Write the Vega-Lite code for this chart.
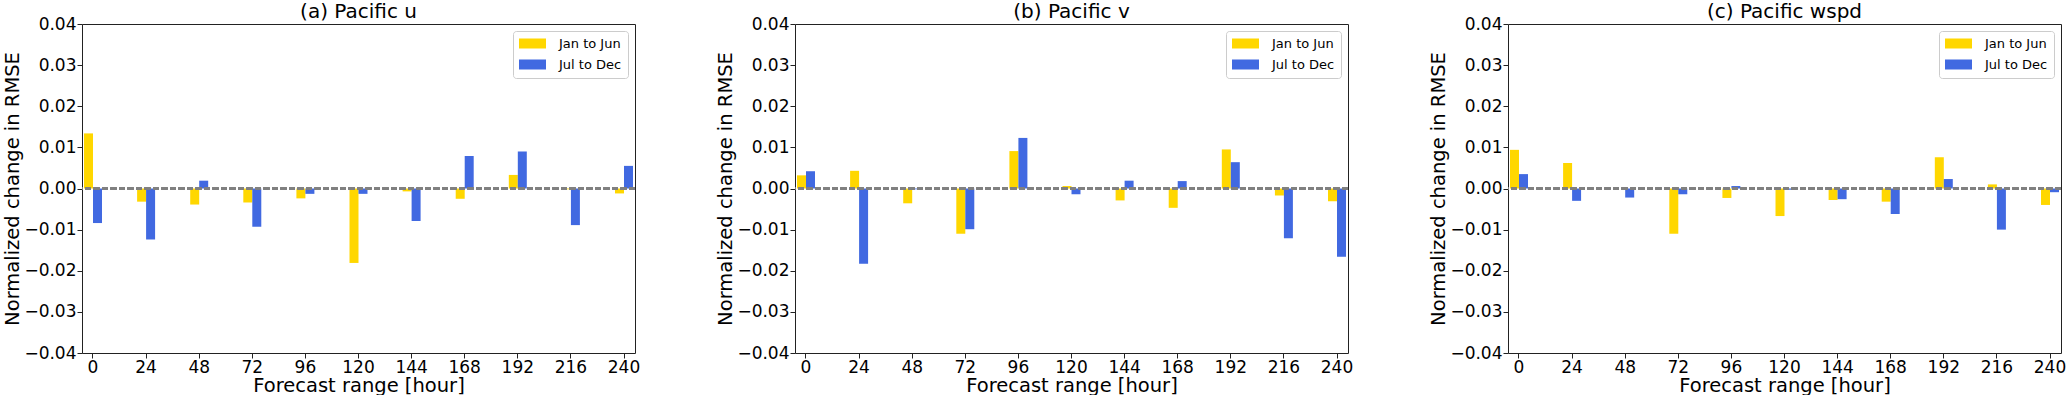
{
  "$schema": "https://vega.github.io/schema/vega-lite/v6.json",
  "padding": {"left": 2, "top": 1, "right": 0, "bottom": 0},
  "bounds": "flush",
  "spacing": 160,
  "data": {
    "values": [
      {"panel": "u", "hour": 0, "period": "Jan to Jun", "value": 0.0134},
      {"panel": "u", "hour": 0, "period": "Jul to Dec", "value": -0.0084},
      {"panel": "u", "hour": 24, "period": "Jan to Jun", "value": -0.0032},
      {"panel": "u", "hour": 24, "period": "Jul to Dec", "value": -0.0124},
      {"panel": "u", "hour": 48, "period": "Jan to Jun", "value": -0.0039},
      {"panel": "u", "hour": 48, "period": "Jul to Dec", "value": 0.0019},
      {"panel": "u", "hour": 72, "period": "Jan to Jun", "value": -0.0034},
      {"panel": "u", "hour": 72, "period": "Jul to Dec", "value": -0.0093},
      {"panel": "u", "hour": 96, "period": "Jan to Jun", "value": -0.0024},
      {"panel": "u", "hour": 96, "period": "Jul to Dec", "value": -0.0013},
      {"panel": "u", "hour": 120, "period": "Jan to Jun", "value": -0.0181},
      {"panel": "u", "hour": 120, "period": "Jul to Dec", "value": -0.0013},
      {"panel": "u", "hour": 144, "period": "Jan to Jun", "value": -0.0007},
      {"panel": "u", "hour": 144, "period": "Jul to Dec", "value": -0.0079},
      {"panel": "u", "hour": 168, "period": "Jan to Jun", "value": -0.0025},
      {"panel": "u", "hour": 168, "period": "Jul to Dec", "value": 0.0079},
      {"panel": "u", "hour": 192, "period": "Jan to Jun", "value": 0.0033},
      {"panel": "u", "hour": 192, "period": "Jul to Dec", "value": 0.009},
      {"panel": "u", "hour": 216, "period": "Jan to Jun", "value": -0.0002},
      {"panel": "u", "hour": 216, "period": "Jul to Dec", "value": -0.0089},
      {"panel": "u", "hour": 240, "period": "Jan to Jun", "value": -0.0012},
      {"panel": "u", "hour": 240, "period": "Jul to Dec", "value": 0.0055},
      {"panel": "v", "hour": 0, "period": "Jan to Jun", "value": 0.0032},
      {"panel": "v", "hour": 0, "period": "Jul to Dec", "value": 0.0042},
      {"panel": "v", "hour": 24, "period": "Jan to Jun", "value": 0.0043},
      {"panel": "v", "hour": 24, "period": "Jul to Dec", "value": -0.0183},
      {"panel": "v", "hour": 48, "period": "Jan to Jun", "value": -0.0036},
      {"panel": "v", "hour": 48, "period": "Jul to Dec", "value": -0.0002},
      {"panel": "v", "hour": 72, "period": "Jan to Jun", "value": -0.011},
      {"panel": "v", "hour": 72, "period": "Jul to Dec", "value": -0.0099},
      {"panel": "v", "hour": 96, "period": "Jan to Jun", "value": 0.0091},
      {"panel": "v", "hour": 96, "period": "Jul to Dec", "value": 0.0123},
      {"panel": "v", "hour": 120, "period": "Jan to Jun", "value": 0.0006},
      {"panel": "v", "hour": 120, "period": "Jul to Dec", "value": -0.0014},
      {"panel": "v", "hour": 144, "period": "Jan to Jun", "value": -0.0029},
      {"panel": "v", "hour": 144, "period": "Jul to Dec", "value": 0.0019},
      {"panel": "v", "hour": 168, "period": "Jan to Jun", "value": -0.0047},
      {"panel": "v", "hour": 168, "period": "Jul to Dec", "value": 0.0018},
      {"panel": "v", "hour": 192, "period": "Jan to Jun", "value": 0.0095},
      {"panel": "v", "hour": 192, "period": "Jul to Dec", "value": 0.0064},
      {"panel": "v", "hour": 216, "period": "Jan to Jun", "value": -0.0017},
      {"panel": "v", "hour": 216, "period": "Jul to Dec", "value": -0.0121},
      {"panel": "v", "hour": 240, "period": "Jan to Jun", "value": -0.0031},
      {"panel": "v", "hour": 240, "period": "Jul to Dec", "value": -0.0166},
      {"panel": "wspd", "hour": 0, "period": "Jan to Jun", "value": 0.0094},
      {"panel": "wspd", "hour": 0, "period": "Jul to Dec", "value": 0.0035},
      {"panel": "wspd", "hour": 24, "period": "Jan to Jun", "value": 0.0062},
      {"panel": "wspd", "hour": 24, "period": "Jul to Dec", "value": -0.003},
      {"panel": "wspd", "hour": 48, "period": "Jan to Jun", "value": 0.0},
      {"panel": "wspd", "hour": 48, "period": "Jul to Dec", "value": -0.0022},
      {"panel": "wspd", "hour": 72, "period": "Jan to Jun", "value": -0.011},
      {"panel": "wspd", "hour": 72, "period": "Jul to Dec", "value": -0.0014},
      {"panel": "wspd", "hour": 96, "period": "Jan to Jun", "value": -0.0023},
      {"panel": "wspd", "hour": 96, "period": "Jul to Dec", "value": 0.0006},
      {"panel": "wspd", "hour": 120, "period": "Jan to Jun", "value": -0.0067},
      {"panel": "wspd", "hour": 120, "period": "Jul to Dec", "value": -0.0003},
      {"panel": "wspd", "hour": 144, "period": "Jan to Jun", "value": -0.0028},
      {"panel": "wspd", "hour": 144, "period": "Jul to Dec", "value": -0.0026},
      {"panel": "wspd", "hour": 168, "period": "Jan to Jun", "value": -0.0032},
      {"panel": "wspd", "hour": 168, "period": "Jul to Dec", "value": -0.0062},
      {"panel": "wspd", "hour": 192, "period": "Jan to Jun", "value": 0.0076},
      {"panel": "wspd", "hour": 192, "period": "Jul to Dec", "value": 0.0023},
      {"panel": "wspd", "hour": 216, "period": "Jan to Jun", "value": 0.001},
      {"panel": "wspd", "hour": 216, "period": "Jul to Dec", "value": -0.01},
      {"panel": "wspd", "hour": 240, "period": "Jan to Jun", "value": -0.004},
      {"panel": "wspd", "hour": 240, "period": "Jul to Dec", "value": -0.0009}
    ]
  },
  "hconcat": [
    {
      "title": "(a) Pacific u",
      "width": 553,
      "height": 329,
      "transform": [{"filter": "datum.panel === 'u'"}],
      "layer": [
        {
          "mark": "bar",
          "encoding": {
            "x": {"field": "hour", "type": "ordinal", "title": "Forecast range [hour]",
                  "scale": {"type": "band", "paddingInner": 0.586, "paddingOuter": 0}},
            "xOffset": {"field": "period", "type": "nominal", "sort": ["Jan to Jun", "Jul to Dec"],
                        "scale": {"paddingInner": 0, "paddingOuter": 0.222}},
            "y": {"field": "value", "type": "quantitative", "title": "Normalized change in RMSE",
                  "scale": {"domain": [-0.04, 0.04], "nice": false},
                  "axis": {"values": [-0.04, -0.03, -0.02, -0.01, 0, 0.01, 0.02, 0.03, 0.04], "format": ".2f"}},
            "color": {"field": "period", "type": "nominal",
                      "scale": {"domain": ["Jan to Jun", "Jul to Dec"], "range": ["#FFD700", "#4169E1"]}}
          }
        },
        {
          "mark": {"type": "rule", "color": "#808080", "strokeWidth": 1.5, "strokeDash": [6, 2.5]},
          "encoding": {"y": {"datum": 0}}
        }
      ]
    },
    {
      "title": "(b) Pacific v",
      "width": 553,
      "height": 329,
      "transform": [{"filter": "datum.panel === 'v'"}],
      "layer": [
        {
          "mark": "bar",
          "encoding": {
            "x": {"field": "hour", "type": "ordinal", "title": "Forecast range [hour]",
                  "scale": {"type": "band", "paddingInner": 0.586, "paddingOuter": 0}},
            "xOffset": {"field": "period", "type": "nominal", "sort": ["Jan to Jun", "Jul to Dec"],
                        "scale": {"paddingInner": 0, "paddingOuter": 0.222}},
            "y": {"field": "value", "type": "quantitative", "title": "Normalized change in RMSE",
                  "scale": {"domain": [-0.04, 0.04], "nice": false},
                  "axis": {"values": [-0.04, -0.03, -0.02, -0.01, 0, 0.01, 0.02, 0.03, 0.04], "format": ".2f"}},
            "color": {"field": "period", "type": "nominal",
                      "scale": {"domain": ["Jan to Jun", "Jul to Dec"], "range": ["#FFD700", "#4169E1"]}}
          }
        },
        {
          "mark": {"type": "rule", "color": "#808080", "strokeWidth": 1.5, "strokeDash": [6, 2.5]},
          "encoding": {"y": {"datum": 0}}
        }
      ]
    },
    {
      "title": "(c) Pacific wspd",
      "width": 553,
      "height": 329,
      "transform": [{"filter": "datum.panel === 'wspd'"}],
      "layer": [
        {
          "mark": "bar",
          "encoding": {
            "x": {"field": "hour", "type": "ordinal", "title": "Forecast range [hour]",
                  "scale": {"type": "band", "paddingInner": 0.586, "paddingOuter": 0}},
            "xOffset": {"field": "period", "type": "nominal", "sort": ["Jan to Jun", "Jul to Dec"],
                        "scale": {"paddingInner": 0, "paddingOuter": 0.222}},
            "y": {"field": "value", "type": "quantitative", "title": "Normalized change in RMSE",
                  "scale": {"domain": [-0.04, 0.04], "nice": false},
                  "axis": {"values": [-0.04, -0.03, -0.02, -0.01, 0, 0.01, 0.02, 0.03, 0.04], "format": ".2f"}},
            "color": {"field": "period", "type": "nominal",
                      "scale": {"domain": ["Jan to Jun", "Jul to Dec"], "range": ["#FFD700", "#4169E1"]}}
          }
        },
        {
          "mark": {"type": "rule", "color": "#808080", "strokeWidth": 1.5, "strokeDash": [6, 2.5]},
          "encoding": {"y": {"datum": 0}}
        }
      ]
    }
  ],
  "resolve": {"legend": {"color": "independent"}, "scale": {"x": "independent", "y": "independent"}},
  "config": {
    "font": "DejaVu Sans",
    "view": {"stroke": "#222222", "strokeWidth": 1},
    "title": {"fontSize": 20, "fontWeight": "normal", "color": "black", "offset": -7},
    "axis": {
      "domain": false,
      "grid": false,
      "tickColor": "#222222",
      "tickSize": 5,
      "labelPadding": 1,
      "labelFontSize": 17,
      "labelColor": "black",
      "titleFontSize": 19.5,
      "titleFontWeight": "normal",
      "titleColor": "black"
    },
    "axisX": {"labelAngle": 0, "titlePadding": 1},
    "axisY": {"titlePadding": 1},
    "legend": {
      "orient": "top-right",
      "offset": 7,
      "title": null,
      "fillColor": "white",
      "strokeColor": "#cccccc",
      "cornerRadius": 3,
      "padding": 6,
      "labelFontSize": 13,
      "labelColor": "black",
      "symbolType": "M-2.08,-0.77H2.08V0.77H-2.08Z",
      "symbolSize": 169,
      "symbolStrokeWidth": 0,
      "symbolOpacity": 1,
      "symbolOffset": 7,
      "labelOffset": 20,
      "rowPadding": 7
    }
  }
}
